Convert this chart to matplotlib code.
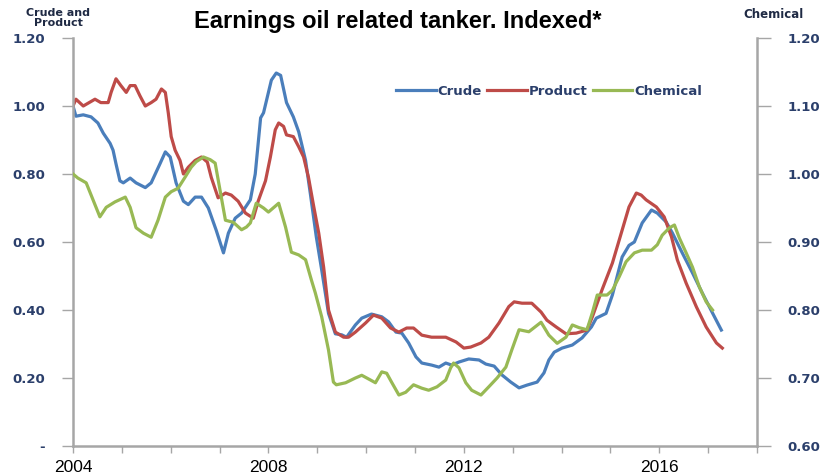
import matplotlib.pyplot as plt

# Crude (left axis)
crude_year = [2004.00, 2004.06, 2004.21, 2004.37, 2004.51, 2004.62, 2004.76, 2004.82, 2004.88, 2004.96,
              2005.03, 2005.17, 2005.29, 2005.48, 2005.60, 2005.78, 2005.89, 2005.99, 2006.11, 2006.26,
              2006.36, 2006.50, 2006.63, 2006.77, 2006.93, 2007.08, 2007.18, 2007.32, 2007.45, 2007.63,
              2007.73, 2007.84, 2007.90, 2008.06, 2008.16, 2008.25, 2008.37, 2008.51, 2008.62, 2008.76,
              2008.86, 2008.98, 2009.09, 2009.23, 2009.37, 2009.50, 2009.60, 2009.78, 2009.91, 2010.11,
              2010.32, 2010.46, 2010.61, 2010.73, 2010.87, 2011.02, 2011.14, 2011.34, 2011.49, 2011.63,
              2011.75, 2011.90, 2012.10, 2012.31, 2012.45, 2012.62, 2012.78, 2012.96, 2013.13, 2013.29,
              2013.50, 2013.64, 2013.74, 2013.85, 2014.01, 2014.22, 2014.42, 2014.61, 2014.71, 2014.91,
              2015.04, 2015.24, 2015.38, 2015.49, 2015.65, 2015.84, 2015.96, 2016.14, 2016.27, 2016.47,
              2016.68, 2016.88, 2017.09, 2017.27]
crude = [1.00, 0.97, 0.974, 0.968, 0.95, 0.92, 0.89, 0.87, 0.83, 0.78,
         0.774, 0.788, 0.774, 0.76, 0.774, 0.83, 0.865, 0.85, 0.774, 0.72,
         0.71, 0.732, 0.732, 0.70, 0.635, 0.568, 0.626, 0.67, 0.685, 0.724,
         0.80, 0.965, 0.98, 1.076, 1.097, 1.09, 1.01, 0.968, 0.924, 0.84,
         0.74, 0.615, 0.518, 0.39, 0.33, 0.327, 0.32, 0.356, 0.376, 0.388,
         0.38, 0.365, 0.335, 0.332, 0.303, 0.262, 0.244, 0.238, 0.232, 0.244,
         0.238, 0.247, 0.256, 0.253, 0.241, 0.235, 0.209, 0.188, 0.171, 0.179,
         0.188, 0.215, 0.253, 0.276, 0.288, 0.297, 0.318, 0.35, 0.376, 0.39,
         0.444, 0.556, 0.59, 0.60, 0.656, 0.694, 0.685, 0.659, 0.626, 0.568,
         0.509, 0.45, 0.391, 0.341]

# Product (left axis)
product_year = [2004.00, 2004.06, 2004.21, 2004.45, 2004.57, 2004.72, 2004.78, 2004.88, 2004.98, 2005.09,
                2005.17, 2005.27, 2005.37, 2005.48, 2005.60, 2005.70, 2005.81, 2005.89, 2005.95, 2006.01,
                2006.09, 2006.19, 2006.26, 2006.36, 2006.50, 2006.63, 2006.75, 2006.83, 2006.97, 2007.12,
                2007.24, 2007.38, 2007.53, 2007.69, 2007.79, 2007.94, 2008.04, 2008.14, 2008.21, 2008.31,
                2008.37, 2008.51, 2008.62, 2008.72, 2008.82, 2008.92, 2009.03, 2009.13, 2009.23, 2009.37,
                2009.54, 2009.64, 2009.78, 2009.99, 2010.15, 2010.32, 2010.50, 2010.67, 2010.83, 2010.97,
                2011.14, 2011.34, 2011.63, 2011.84, 2012.00, 2012.14, 2012.35, 2012.51, 2012.72, 2012.92,
                2013.03, 2013.19, 2013.39, 2013.58, 2013.70, 2013.89, 2014.09, 2014.30, 2014.52, 2014.63,
                2014.83, 2015.04, 2015.24, 2015.38, 2015.53, 2015.63, 2015.73, 2015.94, 2016.10, 2016.25,
                2016.37, 2016.55, 2016.76, 2016.96, 2017.17, 2017.29]
product = [1.00, 1.02, 1.00, 1.02, 1.01, 1.01, 1.04, 1.08, 1.06, 1.04,
           1.06, 1.06, 1.03, 1.00, 1.01, 1.02, 1.05, 1.04, 0.98, 0.91,
           0.87, 0.84, 0.80, 0.82, 0.84, 0.85, 0.835, 0.79, 0.73, 0.744,
           0.738, 0.72, 0.685, 0.67, 0.72, 0.78, 0.85, 0.93, 0.95, 0.94,
           0.915, 0.91, 0.88, 0.85, 0.79, 0.71, 0.626, 0.526, 0.40, 0.335,
           0.32, 0.32, 0.335, 0.362, 0.385, 0.376, 0.347, 0.335, 0.347, 0.347,
           0.326, 0.32, 0.32, 0.306, 0.288, 0.291, 0.303, 0.32, 0.362, 0.41,
           0.424, 0.42, 0.42, 0.394, 0.37, 0.35, 0.33, 0.332, 0.341, 0.38,
           0.46, 0.538, 0.635, 0.703, 0.744, 0.738, 0.724, 0.703, 0.674, 0.615,
           0.547, 0.479, 0.409, 0.35, 0.303, 0.288]

# Chemical (right axis)
chemical_year = [2004.00, 2004.10, 2004.27, 2004.41, 2004.55, 2004.68, 2004.86, 2005.07, 2005.17, 2005.29,
                 2005.44, 2005.60, 2005.74, 2005.89, 2006.01, 2006.15, 2006.30, 2006.42, 2006.52, 2006.67,
                 2006.81, 2006.91, 2007.02, 2007.12, 2007.28, 2007.45, 2007.55, 2007.63, 2007.75, 2007.90,
                 2008.00, 2008.21, 2008.35, 2008.47, 2008.62, 2008.76, 2008.88, 2008.96, 2009.09, 2009.23,
                 2009.33, 2009.39, 2009.58, 2009.78, 2009.91, 2010.09, 2010.19, 2010.32, 2010.42, 2010.52,
                 2010.67, 2010.81, 2010.97, 2011.14, 2011.28, 2011.45, 2011.63, 2011.73, 2011.79, 2011.90,
                 2012.04, 2012.16, 2012.35, 2012.51, 2012.68, 2012.86, 2012.98, 2013.13, 2013.33, 2013.58,
                 2013.74, 2013.91, 2014.09, 2014.22, 2014.36, 2014.52, 2014.63, 2014.73, 2014.93, 2015.04,
                 2015.18, 2015.32, 2015.49, 2015.65, 2015.84, 2015.96, 2016.06, 2016.21, 2016.31, 2016.41,
                 2016.55, 2016.68, 2016.82, 2016.96, 2017.09]
chemical = [1.00, 0.994, 0.987, 0.962, 0.937, 0.951, 0.959, 0.966, 0.951, 0.921,
            0.913, 0.907, 0.932, 0.966, 0.974, 0.979, 0.996, 1.010, 1.018, 1.025,
            1.021, 1.016, 0.972, 0.932, 0.929, 0.918, 0.922, 0.928, 0.957, 0.950,
            0.944, 0.957, 0.922, 0.885, 0.881, 0.874, 0.844, 0.825, 0.790, 0.741,
            0.694, 0.690, 0.693, 0.700, 0.704, 0.697, 0.693, 0.709, 0.707, 0.694,
            0.675, 0.679, 0.690, 0.685, 0.682, 0.687, 0.697, 0.715, 0.722, 0.715,
            0.693, 0.682, 0.675, 0.687, 0.700, 0.716, 0.741, 0.771, 0.768, 0.782,
            0.763, 0.751, 0.760, 0.778, 0.774, 0.771, 0.796, 0.822, 0.822, 0.829,
            0.849, 0.871, 0.884, 0.888, 0.888, 0.896, 0.910, 0.921, 0.925, 0.906,
            0.884, 0.863, 0.834, 0.812, 0.800]

left_ticks = [0, 0.2, 0.4, 0.6, 0.8, 1.0, 1.2]
left_labels = ["-", "0.20", "0.40", "0.60", "0.80", "1.00", "1.20"]
right_ticks = [0.6, 0.7, 0.8, 0.9, 1.0, 1.1, 1.2]
right_labels = ["0.60", "0.70", "0.80", "0.90", "1.00", "1.10", "1.20"]
year_ticks = list(range(2004, 2019))
year_labels = [str(y) if y in (2004, 2008, 2012, 2016) else "" for y in year_ticks]

plt.rcParams["font.family"] = ["DejaVu Sans"]
grey = "#a6a6a6"
navy = "#2b3f6b"

fig = plt.figure(figsize=(8.21, 4.75), dpi=100)
ax = fig.add_axes([73 / 821, 29 / 475, 684 / 821, 408 / 475])
ax2 = ax.twinx()

l1, = ax.plot(crude_year, crude, color="#4a7ebb", lw=2.3, label="Crude")
l2, = ax.plot(product_year, product, color="#be4b48", lw=2.3, label="Product")
l3, = ax2.plot(chemical_year, chemical, color="#98b954", lw=2.3, label="Chemical")

ax.set_xlim(2004, 2018)
ax.set_ylim(0, 1.2)
ax2.set_ylim(0.6, 1.2)

for a in (ax, ax2):
    for s in a.spines.values():
        s.set_color(grey)
        s.set_linewidth(1.8)
    a.spines["top"].set_visible(False)
ax.spines["right"].set_visible(False)
ax2.spines["left"].set_visible(False)
ax2.spines["bottom"].set_visible(False)

ax.set_yticks(left_ticks)
ax.set_yticklabels(left_labels, fontweight="bold", fontsize=9.5, color=navy)
ax.tick_params(axis="y", direction="out", length=8, width=1, color=grey, pad=12)
ax2.set_yticks(right_ticks)
ax2.set_yticklabels(right_labels, fontweight="bold", fontsize=9.5, color=navy)
ax2.tick_params(axis="y", direction="out", length=10, width=1, color=grey, pad=12)

ax.set_xticks(year_ticks)
ax.set_xticklabels(year_labels, fontsize=12.5, family=["Liberation Sans Narrow", "Liberation Sans"])
ax.tick_params(axis="x", direction="out", length=5, width=1, color=grey, pad=5)

ax2.legend(handles=[l1, l2, l3], loc="center", bbox_to_anchor=(0.696, 0.87), ncol=3,
           frameon=False, handlelength=3.0, handletextpad=0.15, columnspacing=0.4,
           prop={"weight": "bold", "size": 9.5}, labelcolor=navy)

fig.text(0.484, 0.954, "Earnings oil related tanker. Indexed*", ha="center", va="center",
         fontsize=17, fontweight="bold", family=["Liberation Sans"])
fig.text(58 / 821, 1 - 18 / 475, "Crude and\nProduct", ha="center", va="center",
         fontsize=8, fontweight="bold", color="#1f2a44", linespacing=0.95)
fig.text(743 / 821, 1 - 14 / 475, "Chemical", ha="left", va="center",
         fontsize=8.5, fontweight="bold", color="#1f2a44")

fig.savefig("out.png", dpi=100)
